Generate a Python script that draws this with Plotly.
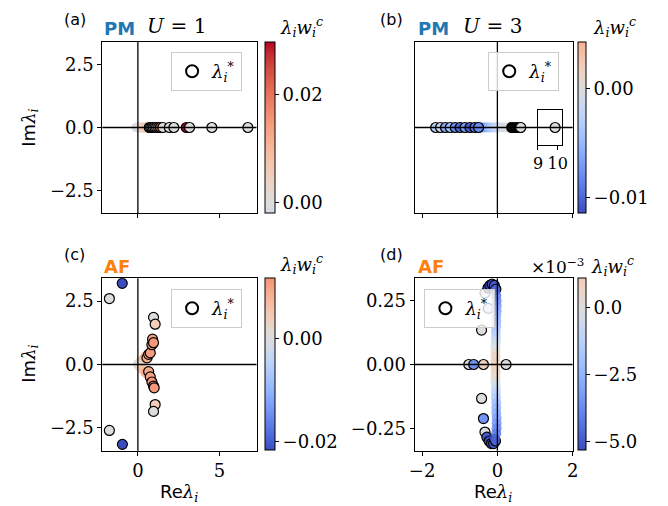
import plotly.graph_objects as go

# ---------------- data ----------------
# (a) PM, U=1  (all on real axis)
a_re_fade = [-0.10, -0.02, 0.05, 0.12, 0.18, 0.24, 0.30, 0.35, 0.40, 0.45, 0.50, 0.55, 0.60]
a_im_fade = [0.0] * 13
a_w_fade = [-0.0019, -0.0010, 0.0000, 0.0005, 0.0010, 0.0015, 0.0025, 0.0035, 0.0045, 0.0055, 0.0065, 0.0070, 0.0050]
a_re = [0.70, 0.78, 0.86, 0.95, 1.05, 1.15, 1.27, 1.38, 1.53, 1.93, 2.21, 2.97, 3.17, 4.54, 6.75]
a_im = [0.0] * 15
a_w = [0.004, 0.002, 0.000, 0.001, 0.000, 0.002, 0.006, 0.022, 0.000, 0.000, 0.000, 0.0297, 0.000, 0.000, 0.000]

# (b) PM, U=3
b_re_fade = [-0.45, -0.38, -0.31, -0.24, -0.17, -0.10, -0.03, 0.04, 0.11, 0.18, 0.25, 0.32]
b_im_fade = [0.0] * 12
b_w_fade = [-0.0085, -0.0075, -0.0062, -0.0050, -0.0038, -0.0028, -0.0020, -0.0012, -0.0006, -0.0003, -0.0001, 0.0]
b_re = [-1.64, -1.51, -1.38, -1.25, -1.12, -0.99, -0.86, -0.73, -0.60, -0.50,
        0.38, 0.40, 0.42, 0.44, 0.46, 0.48, 0.50, 0.52, 0.54, 0.56, 0.58, 0.60, 0.62, 9.87]
b_im = [0.0] * 24
b_w = [-0.003, -0.001, -0.006, -0.004, -0.008, -0.010, -0.007, -0.0105, -0.009, -0.008,
       0.0003, 0.0003, 0.0003, 0.0002, 0.0002, 0.0002, 0.0001, 0.0001, 0.0001, 0.0001, 0.0000, 0.0000, 0.0000, 0.0002]

# (c) AF, U=1
c_re_fade = [0.02, 0.10, 0.18, 0.26, 0.34, 0.42, 0.50, 0.02, 0.10, 0.18, 0.26, 0.34, 0.42, 0.50]
c_im_fade = [0.03, 0.08, 0.12, 0.17, 0.22, 0.28, 0.33, -0.03, -0.08, -0.12, -0.17, -0.22, -0.28, -0.33]
c_w_fade = [0.0000, 0.0010, 0.0025, 0.0040, 0.0055, 0.0070, 0.0085, 0.0000, 0.0010, 0.0025, 0.0040, 0.0055, 0.0070, 0.0085]
c_re = [-0.96, -1.75, -1.75, -0.95,
        0.96, 1.06, 0.56, 0.66, 0.76, 0.86, 0.90, 0.96,
        0.66, 0.76, 0.86, 0.96, 1.00, 1.06, 0.96]
c_im = [3.20, 2.60, -2.60, -3.15,
        1.86, 1.59, 0.26, 0.40, 0.46, 0.78, 1.00, 0.86,
        -0.28, -0.49, -0.69, -0.85, -0.92, -1.58, -1.85]
c_w = [-0.0217, 0.0000, 0.0000, -0.0217,
       0.0000, 0.0040, 0.0090, 0.0100, 0.0105, 0.0110, 0.0100, 0.0110,
       0.0090, 0.0100, 0.0110, 0.0105, 0.0110, 0.0040, 0.0000]

# (d) AF, U=3
d_re = [-0.76, -0.63, -0.37, 0.23,
        -0.42, -0.42, -0.37, -0.33, -0.33, -0.24,
        -0.25, -0.20, -0.14, -0.08, -0.04,
        -0.28, -0.22, -0.16, -0.10, -0.05]
d_im = [0.0, 0.0, 0.0, 0.0,
        0.135, -0.133, -0.212, -0.265, 0.280, 0.220,
        0.300, 0.310, 0.315, 0.310, 0.295,
        -0.285, -0.300, -0.310, -0.310, -0.300]
d_w = [0.0000, -0.0035, 0.0008, 0.0000,
       0.0000, 0.0000, -0.0035, 0.0000, 0.0000, -0.0010,
       -0.0050, -0.0053, -0.0052, -0.0050, -0.0048,
       -0.0050, -0.0053, -0.0052, -0.0050, -0.0048]
d_im_fade = [0.29, 0.27, 0.25, 0.23, 0.21, 0.19, 0.17, 0.15, 0.13, 0.11, 0.09, 0.07, 0.05, 0.03, 0.01,
             -0.01, -0.03, -0.05, -0.07, -0.09, -0.11, -0.13, -0.15, -0.17, -0.19, -0.21, -0.23, -0.25, -0.27, -0.29]
d_re_fade = [-0.06, -0.03, -0.02, -0.02, -0.02, -0.03, -0.03, -0.03, -0.04, -0.04, -0.04, -0.05, -0.05, -0.05, -0.05,
             -0.05, -0.05, -0.05, -0.05, -0.04, -0.04, -0.04, -0.03, -0.03, -0.03, -0.02, -0.02, -0.02, -0.03, -0.06]
d_w_fade = [-0.0048, -0.0042, -0.0038, -0.0034, -0.0030, -0.0027, -0.0024, -0.0020, -0.0016, -0.0012, -0.0007, -0.0002, 0.0003, 0.0007, 0.0009,
            0.0009, 0.0007, 0.0003, -0.0002, -0.0007, -0.0012, -0.0016, -0.0020, -0.0024, -0.0027, -0.0030, -0.0034, -0.0038, -0.0042, -0.0048]

# colour-bar limits
a_clim = [-0.0019, 0.0297]
b_clim = [-0.0114, 0.0043]
c_clim = [-0.0217, 0.0116]
d_clim = [-0.00532, 0.00108]

# ---------------- style helpers ----------------
OFF = 8                      # browser body margin
W, H = 668 - OFF, 506 - OFF  # figure size so that page content spans the 668x506 window
SERIF = "DejaVu Serif"
SANS = "DejaVu Sans"
TS = 18
MS = 10

CW = [(0.2298057, 0.298717966, 0.753683153), (0.26623388, 0.353094838, 0.801466763),
      (0.30386891, 0.406535296, 0.84495867), (0.342804478, 0.458757618, 0.883725899),
      (0.38301334, 0.50941904, 0.917387822), (0.424369608, 0.558148092, 0.945619588),
      (0.46666708, 0.604562568, 0.968154911), (0.509635204, 0.648280772, 0.98478814),
      (0.552953156, 0.688929332, 0.995375608), (0.596262162, 0.726149107, 0.999836203),
      (0.639176211, 0.759599947, 0.998151185), (0.681291281, 0.788964712, 0.990363227),
      (0.722193294, 0.813952739, 0.976574709), (0.761464949, 0.834302879, 0.956945269),
      (0.798691636, 0.849786142, 0.931688648), (0.833466556, 0.860207984, 0.901068838),
      (0.865395197, 0.86541021, 0.865395561), (0.897787179, 0.848937047, 0.820880546),
      (0.924127593, 0.827384882, 0.774508472), (0.944468518, 0.800927443, 0.726736146),
      (0.958852946, 0.769767752, 0.678007945), (0.96732803, 0.734132809, 0.628751763),
      (0.969954137, 0.694266682, 0.579375448), (0.966811177, 0.650421156, 0.530263762),
      (0.958003065, 0.602842431, 0.481775914), (0.943660866, 0.551750968, 0.434243684),
      (0.923944917, 0.49730856, 0.387970225), (0.89904617, 0.439559467, 0.343229596),
      (0.869186849, 0.378313092, 0.300267182), (0.834620542, 0.312874446, 0.259301199),
      (0.795631745, 0.24128379, 0.220525627), (0.752534934, 0.157246067, 0.184115123),
      (0.705673158, 0.01555616, 0.150232812)]


def coolwarm(t):
    t = min(max(t, 0.0), 1.0)
    n = len(CW) - 1
    i = min(int(t * n), n - 1)
    f = t * n - i
    c = [CW[i][k] + (CW[i + 1][k] - CW[i][k]) * f for k in range(3)]
    return "rgb(%d,%d,%d)" % tuple(round(255 * v) for v in c)


def scale(lim):
    a = max(abs(lim[0]), abs(lim[1]))
    out = []
    for j in range(33):
        s = j / 32
        v = lim[0] + s * (lim[1] - lim[0])
        out.append([s, coolwarm(0.5 + v / (2 * a))])
    return out


def fx(p):
    return (p - OFF) / W


def fy(p):
    return 1 - (p - OFF) / H


PAN = {1: (98, 255, 42, 213), 2: (416, 577, 42, 213), 3: (98, 255, 278.3, 450.7), 4: (416, 577, 278.3, 450.7)}

fig = go.Figure()

panels = [
    (1, a_re_fade, a_im_fade, a_w_fade, a_re, a_im, a_w, "coloraxis"),
    (2, b_re_fade, b_im_fade, b_w_fade, b_re, b_im, b_w, "coloraxis2"),
    (3, c_re_fade, c_im_fade, c_w_fade, c_re, c_im, c_w, "coloraxis3"),
    (4, d_re_fade, d_im_fade, d_w_fade, d_re, d_im, d_w, "coloraxis4"),
]
for k, rf, imf, wf, re_, im_, w_, ca in panels:
    xa = "x" if k == 1 else "x%d" % k
    ya = "y" if k == 1 else "y%d" % k
    edged = go.Scatter(x=re_, y=im_, mode="markers", xaxis=xa, yaxis=ya, showlegend=False,
                       marker=dict(size=MS, color=w_, coloraxis=ca, line=dict(color="black", width=1.2)))
    fade = go.Scatter(x=rf, y=imf, mode="markers", xaxis=xa, yaxis=ya, showlegend=False,
                      marker=dict(size=MS, color=wf, coloraxis=ca, line=dict(width=0), opacity=0.85))
    if k == 4:
        fig.add_trace(edged)
        fig.add_trace(fade)
    else:
        fig.add_trace(fade)
        fig.add_trace(edged)
    fig.add_trace(go.Scatter(x=[None], y=[None], mode="markers", xaxis=xa, yaxis=ya,
                             name="<i>λ<sub>i</sub><sup>*</sup></i>",
                             legend="legend" if k == 1 else "legend%d" % k, showlegend=True,
                             marker=dict(size=MS, color="white", line=dict(color="black", width=1.5))))

# inset in (b)
fig.add_trace(go.Scatter(x=b_re, y=b_im, mode="markers", xaxis="x5", yaxis="y5", showlegend=False,
                         marker=dict(size=MS, color=b_w, coloraxis="coloraxis2",
                                     line=dict(color="black", width=1.2))))

axis_common = dict(showline=True, linecolor="black", linewidth=1, mirror=True, showgrid=False,
                   zeroline=False, ticks="outside", ticklen=4, tickwidth=1, tickcolor="black",
                   tickfont=dict(family=SERIF, size=TS, color="black"))

lay = dict(width=W, height=H, margin=dict(l=0, r=0, t=0, b=0), autosize=False,
           paper_bgcolor="white", plot_bgcolor="white", font=dict(family=SERIF, color="black"))

x_ranges = {1: [-2.18, 7.28], 2: [-2.2, 2.0], 3: [-2.18, 7.28], 4: [-2.2, 2.0]}
y_ranges = {1: [-3.4, 3.4], 2: [-3.4, 3.4], 3: [-3.4, 3.4], 4: [-0.338, 0.338]}
x_ticks = {1: ([0, 5], None), 2: ([-2, 0, 2], None), 3: ([0, 5], ["0", "5"]), 4: ([-2, 0, 2], ["−2", "0", "2"])}
y_ticks = {1: ([-2.5, 0, 2.5], ["−2.5", "0.0", "2.5"]), 2: None, 3: ([-2.5, 0, 2.5], ["−2.5", "0.0", "2.5"]),
           4: ([-0.25, 0, 0.25], ["−0.25", "0.00", "0.25"])}

for k, (x0, x1, y0, y1) in PAN.items():
    xn = "xaxis" if k == 1 else "xaxis%d" % k
    yn = "yaxis" if k == 1 else "yaxis%d" % k
    anc_x = "y" if k == 1 else "y%d" % k
    anc_y = "x" if k == 1 else "x%d" % k
    tv, tt = x_ticks[k]
    xd = dict(axis_common, domain=[fx(x0), fx(x1)], range=x_ranges[k], anchor=anc_x, tickvals=tv)
    if tt is None:
        xd["showticklabels"] = False
    else:
        xd["ticktext"] = tt
    lay[xn] = xd
    yd = dict(axis_common, domain=[fy(y1), fy(y0)], range=y_ranges[k], anchor=anc_y)
    if y_ticks[k] is None:
        yd["ticks"] = ""
        yd["showticklabels"] = False
    else:
        yd["tickvals"], yd["ticktext"] = y_ticks[k]
    lay[yn] = yd

# inset axes
lay["xaxis5"] = dict(axis_common, domain=[fx(541.7), fx(566)], range=[9.0, 10.215], anchor="y5",
                     tickvals=[9, 10], ticktext=["9", "10"],
                     tickfont=dict(family=SERIF, size=16, color="black"))
lay["yaxis5"] = dict(axis_common, domain=[fy(145), fy(110)], range=[-0.7, 0.7], anchor="x5",
                     ticks="", showticklabels=False)

# colour axes
cb = {1: (263.3, 10, a_clim, [0, 0.02], ["0.00", "0.02"], 42, 171),
      2: (582.3, 8.4, b_clim, [-0.01, 0.0], ["−0.01", "0.00"], 42, 171),
      3: (263.3, 10, c_clim, [-0.02, 0.0], ["−0.02", "0.00"], 278.3, 172.4),
      4: (582.3, 8.4, d_clim, [-0.005, -0.0025, 0.0], ["−5.0", "−2.5", "0.0"], 278.3, 172.4)}
for k, (xp, th, lim, tv, tt, yt, ln) in cb.items():
    name = "coloraxis" if k == 1 else "coloraxis%d" % k
    lay[name] = dict(cmin=lim[0], cmax=lim[1], colorscale=scale(lim),
                     colorbar=dict(x=fx(xp), xanchor="left", y=fy(yt), yanchor="top",
                                   thickness=th, thicknessmode="pixels", len=ln, lenmode="pixels",
                                   xpad=0, ypad=0, outlinewidth=1, outlinecolor="black",
                                   ticks="outside", ticklen=4, tickwidth=1, tickcolor="black",
                                   tickvals=tv, ticktext=tt,
                                   tickfont=dict(family=SERIF, size=TS, color="black")))

# legends
leg_pos = {1: (168, 52), 2: (491, 52), 3: (168, 289), 4: (426, 289)}
for k, (lx, ly) in leg_pos.items():
    name = "legend" if k == 1 else "legend%d" % k
    lay[name] = dict(x=fx(lx), y=fy(ly), xanchor="left", yanchor="top", xref="paper", yref="paper",
                     bgcolor="rgba(255,255,255,0.8)", bordercolor="#cccccc", borderwidth=1,
                     font=dict(family=SERIF, size=18, color="black"), itemsizing="constant")

fig.update_layout(**lay)

# zero lines (drawn above markers)
shapes = []
for k in PAN:
    xr = "x" if k == 1 else "x%d" % k
    yr = "y" if k == 1 else "y%d" % k
    shapes.append(dict(type="line", xref=xr, yref=yr + " domain", x0=0, x1=0, y0=0, y1=1,
                       line=dict(color="black", width=1.3), layer="above"))
    shapes.append(dict(type="line", xref=xr + " domain", yref=yr, x0=0, x1=1, y0=0, y1=0,
                       line=dict(color="black", width=1.3), layer="above"))
fig.update_layout(shapes=shapes)

ann = []


def txt(x, y, s, family, size, color="black", xanchor="center", angle=0):
    ann.append(dict(x=fx(x), y=fy(y), xref="paper", yref="paper", text=s, showarrow=False,
                    xanchor=xanchor, yanchor="middle", textangle=angle,
                    font=dict(family=family, size=size, color=color)))


lam_i = "<span style='font-family:%s'><i>λ<sub>i</sub></i></span>" % SERIF
for lab, x, y in [("(a)", 70, 20), ("(b)", 392, 20), ("(c)", 70, 255), ("(d)", 392, 255)]:
    txt(x, y, lab, SANS, 16)
txt(98, 29, "<b>PM</b>", SANS, 18, "#1f77b4", "left")
txt(417, 29, "<b>PM</b>", SANS, 18, "#1f77b4", "left")
txt(98, 266, "<b>AF</b>", SANS, 18, "#ff7f0e", "left")
txt(417, 266, "<b>AF</b>", SANS, 18, "#ff7f0e", "left")
txt(174.5, 26, "<i>U</i>\u2004=\u20041", SERIF, 20)
txt(496, 26, "<i>U</i>\u2004=\u20043", SERIF, 20)
cbt = "<i>λ<sub>i</sub>w<sub>i</sub><sup>c</sup></i>"
txt(301, 27, cbt, SERIF, 18)
txt(620, 27, cbt, SERIF, 18)
txt(301, 264, cbt, SERIF, 18)
txt(618, 266, cbt, SERIF, 18)
txt(562, 266, "×10<sup>−3</sup>", SERIF, 17)
txt(24, 128, "Im" + lam_i, SANS, 18, angle=-90)
txt(24, 364, "Im" + lam_i, SANS, 18, angle=-90)
txt(176.5, 493, "Re" + lam_i, SANS, 18)
txt(496, 493, "Re" + lam_i, SANS, 18)
fig.update_layout(annotations=ann)

fig.write_html("out.html")
